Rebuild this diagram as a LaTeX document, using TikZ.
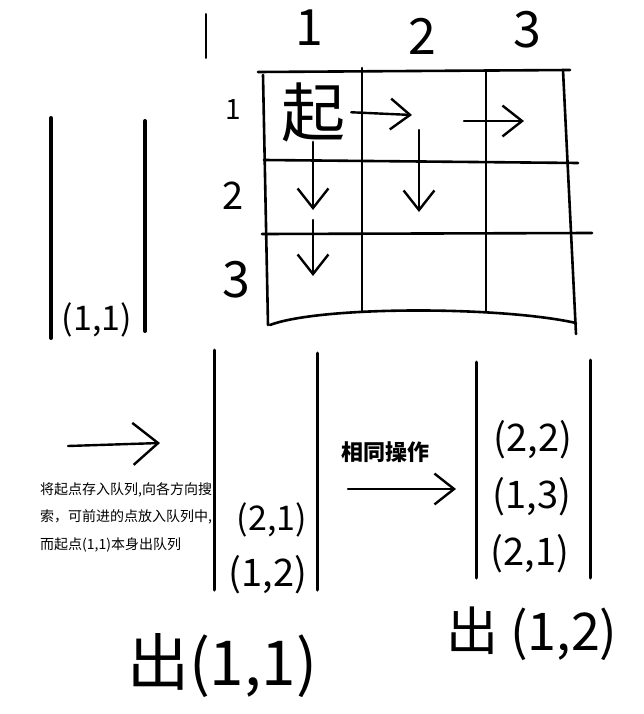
\documentclass[tikz,border=0pt]{standalone}
\usepackage{fontspec}
\setmainfont{Noto Sans CJK SC}
\usetikzlibrary{arrows.meta}

\begin{document}
\begin{tikzpicture}[x=1pt,y=-1pt,
      pen/.style={line width=2.6pt,line cap=round,draw=black},
      tubewall/.style={line width=3pt,line cap=round,draw=black},
      arrow/.style={-{Straight Barb[length=14pt,width=22pt,scale=1.4]},line width=2.4pt,
                    line cap=round,draw=black},
      digit/.style={inner sep=0pt,font=\fontsize{50}{50}\selectfont},
      entry/.style={inner sep=0pt,font=\fontsize{38}{38}\selectfont},
      note/.style={inner sep=0pt,align=left,anchor=north west,
                   font=\fontsize{14}{27.5}\selectfont}
    ]
    \useasboundingbox (0,0) rectangle (644,714);

    % Stray mark
    \draw[pen,line width=2pt] (206,14) -- (206,58);

    % Column and row numbers
    \node[digit] (col1) at (309,28) {1};
    \node[digit] (col2) at (422,36) {2};
    \node[digit] (col3) at (527,30) {3};
    \node[digit,font=\fontsize{28}{28}\selectfont] (row1) at (233,110) {1};
    \node[digit,font=\fontsize{38}{38}\selectfont] (row2) at (233,196) {2};
    \node[digit,font=\fontsize{50}{50}\selectfont] (row3) at (236,280) {3};

    % Maze table
    \draw[pen] (258,72) -- (570,70);
    \draw[pen] (263,75) -- (268,325);
    \draw[pen] (362,68) -- (362,312);
    \draw[pen] (486,72) -- (486,312);
    \draw[pen] (563,70) -- (576,334);
    \draw[pen] (264,160) -- (578,163);
    \draw[pen] (262,234) -- (592,233);
    \draw[pen] (270,325) .. controls (320,306) and (500,306) .. (576,323);

    % Start and search directions
    \node[inner sep=0pt,font=\fontsize{64}{64}\selectfont] (start) at (313,112) {起};
    \coordinate (r12) at (412,115);
    \coordinate (d21) at (313,210);
    \coordinate (t12) at (419,130);
    \coordinate (d22) at (419,212);
    \coordinate (t13) at (464,121);
    \coordinate (r13) at (524,121);
    \coordinate (t31) at (313,220);
    \coordinate (d31) at (313,276);
    \draw[arrow,shorten <=6pt] (start.east) -- (r12);
    \draw[arrow] (start.south) -- (d21);
    \draw[arrow] (t12) -- (d22);
    \draw[arrow] (t13) -- (r13);
    \draw[arrow] (t31) -- (d31);

    % Queue 1
    \draw[tubewall,line width=4pt] (51,118) -- (51,338);
    \draw[tubewall,line width=4pt] (145,121) -- (145,331);
    \node[entry,font=\fontsize{34}{34}\selectfont] (q11) at (97,320) {(1,1)};

    % Step 1
    \coordinate (a1s) at (68,446);
    \coordinate (a1e) at (160,443);
    \draw[arrow,-{Straight Barb[length=18pt,width=30pt,scale=1.4]}] (a1s) -- (a1e);
    \node[note] (step1) at (40,482)
      {将起点存入队列,向各方向搜\\
       索，可前进的点放入队列中,\\
       而起点(1,1)本身出队列};

    % Queue 2
    \draw[tubewall] (214,350) -- (214,590);
    \draw[tubewall] (317,353) -- (317,590);
    \node[entry,font=\fontsize{34}{34}\selectfont] (q21) at (272,520) {(2,1)};
    \node[entry] (q12) at (268,575) {(1,2)};
    \node[inner sep=0pt,font=\fontsize{62}{62}\selectfont] (out1) at (222,666) {出(1,1)};

    % Step 2
    \node[inner sep=0pt,font=\bfseries\fontsize{22}{22}\selectfont] (same) at (385,452) {相同操作};
    \coordinate (a2s) at (348,489);
    \coordinate (a2e) at (456,489);
    \draw[arrow] (a2s) -- (a2e);

    % Queue 3
    \draw[tubewall] (476,362) -- (476,578);
    \draw[tubewall] (590,360) -- (590,578);
    \node[entry] (q22) at (533,440) {(2,2)};
    \node[entry] (q13) at (532,497) {(1,3)};
    \node[entry] (q21b) at (530,554) {(2,1)};
    \node[inner sep=0pt,font=\fontsize{52}{52}\selectfont] (out2) at (532,634) {出 (1,2)};

  \end{tikzpicture}
\end{document}
